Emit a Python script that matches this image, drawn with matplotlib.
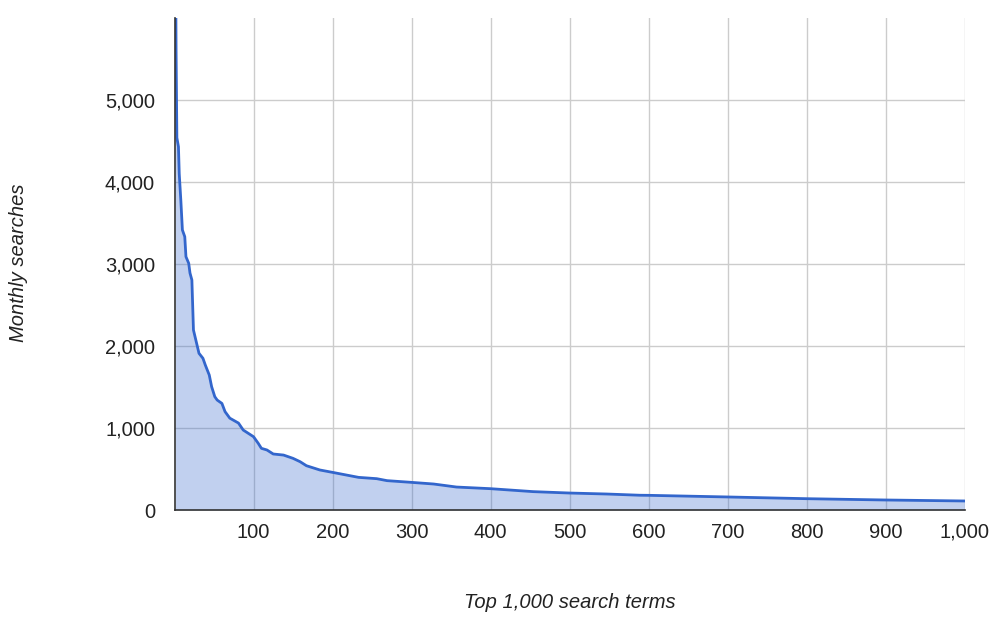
import matplotlib.pyplot as plt
from matplotlib.ticker import FuncFormatter

# rank of search term and its monthly searches
ranks = [1, 2, 3, 5, 6, 8, 10, 13, 14.5, 18, 19.6, 22, 24, 27, 31, 36, 39, 44, 47,
         51, 54, 60, 64, 70, 81, 87, 100, 106, 110, 117, 125, 138, 150, 159, 167,
         184, 200, 233, 256, 269, 300, 328, 357, 400, 454, 500, 547, 589, 600,
         700, 800, 900, 1000]
searches = [7400, 5600, 4540, 4430, 4100, 3780, 3415, 3333, 3089, 3008, 2890, 2805,
            2195, 2073, 1911, 1850, 1768, 1646, 1504, 1382, 1341, 1300, 1199, 1120,
            1060, 975, 894, 813, 752, 732, 683, 670, 630, 589, 540, 488, 459, 398,
            382, 358, 337, 317, 280, 260, 224, 207, 195, 180, 179, 159, 138, 122, 110]

x_ticks = [100, 200, 300, 400, 500, 600, 700, 800, 900, 1000]
y_ticks = [0, 1000, 2000, 3000, 4000, 5000]

plt.rcParams['font.family'] = ['Liberation Sans', 'DejaVu Sans']

fig = plt.figure(figsize=(10, 6.25), dpi=100)
ax = fig.add_axes([0.1745, 0.184, 0.79, 0.7872])

blue = '#3366cc'
ax.fill_between(ranks, searches, 0, color=blue, alpha=0.3, linewidth=0, zorder=2)
ax.plot(ranks, searches, color=blue, linewidth=2, zorder=3)

ax.set_xlim(0, 1000)
ax.set_ylim(0, 6000)
ax.set_xticks(x_ticks)
ax.set_yticks(y_ticks)
comma = FuncFormatter(lambda v, p: f'{int(v):,}')
ax.xaxis.set_major_formatter(comma)
ax.yaxis.set_major_formatter(comma)

ax.grid(True, color='#cccccc', linewidth=1, zorder=1)
ax.set_axisbelow(True)
ax.tick_params(length=0, labelsize=14.5, colors='#222222')
ax.tick_params(axis='y', pad=14)
ax.tick_params(axis='x', pad=9)

for s in ['top', 'right']:
    ax.spines[s].set_visible(False)
for s in ['left', 'bottom']:
    ax.spines[s].set_color('#333333')
    ax.spines[s].set_linewidth(1.2)
    ax.spines[s].set_zorder(4)

fig.text(0.570, (625 - 603) / 625, 'Top 1,000 search terms', fontsize=14.5,
         style='italic', color='#222222', ha='center', va='center')
fig.text(0.019, (625 - 263) / 625, 'Monthly searches', fontsize=14.5,
         style='italic', color='#222222', ha='center', va='center', rotation=90)

fig.savefig('out.png', dpi=100)
